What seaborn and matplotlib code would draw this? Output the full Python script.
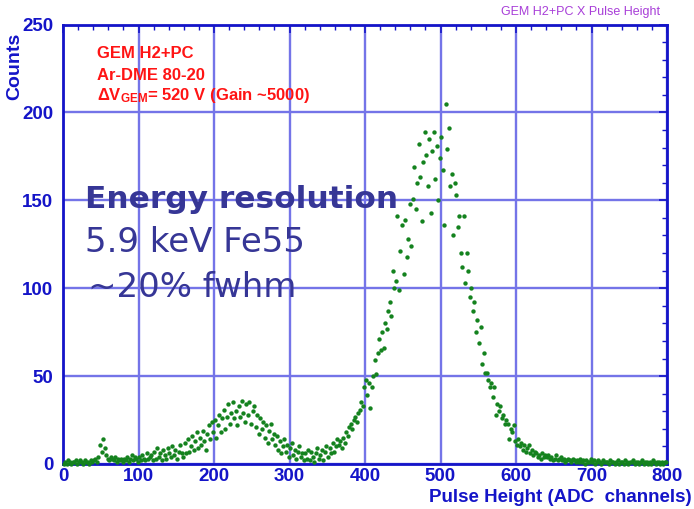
import numpy as np
import pandas as pd
import matplotlib
matplotlib.use("Agg")
import matplotlib.pyplot as plt
import seaborn as sns
from matplotlib.ticker import MultipleLocator

# ---- data: counts per 2-channel bin (bin centres 1, 3, ..., 799) ----
bin_width = 2
counts = [
    # 1-39
    0, 1, 0, 2, 1, 0, 1, 1, 2, 0, 1, 2, 1, 0, 2, 1, 1, 0, 2, 1,
    # 41-79
    2, 3, 1, 4, 11, 7, 14, 9, 5, 3, 2, 4, 3, 2, 4, 1, 3, 2, 3, 1,
    # 81-119
    3, 2, 4, 1, 3, 5, 2, 4, 3, 1, 4, 2, 5, 3, 2, 6, 3, 4, 5, 2,
    # 121-159
    7, 3, 9, 4, 6, 2, 8, 5, 3, 9, 6, 4, 10, 5, 8, 3, 7, 11, 6, 4,
    # 161-199
    12, 6, 14, 7, 10, 16, 8, 13, 18, 9, 15, 11, 19, 13, 8, 17, 22, 14, 24, 18,
    # 201-239
    25, 15, 22, 28, 18, 26, 31, 20, 27, 34, 23, 29, 35, 26, 30, 22, 33, 27, 36, 29,
    # 241-279
    24, 34, 28, 35, 23, 30, 33, 21, 28, 17, 26, 20, 24, 15, 22, 12, 19, 23, 14, 17,
    # 281-319
    11, 16, 8, 13, 6, 10, 14, 7, 11, 4, 9, 12, 5, 8, 3, 7, 10, 4, 6, 2,
    # 321-359
    6, 3, 8, 2, 7, 4, 1, 6, 9, 3, 5, 8, 2, 7, 10, 4, 9, 6, 12, 7,
    # 361-399
    10, 14, 11, 13, 9, 15, 12, 18, 16, 21, 23, 20, 25, 27, 24, 29, 31, 35, 33, 44,
    # 401-439
    48, 39, 46, 32, 44, 50, 59, 51, 63, 71, 65, 75, 66, 80, 77, 87, 92, 84, 110, 100,
    # 441-479
    104, 141, 99, 121, 136, 108, 139, 118, 128, 148, 124, 151, 169, 145, 160, 182, 163, 138, 172, 189,
    # 481-519
    176, 158, 185, 143, 178, 189, 162, 181, 150, 174, 186, 167, 136, 205, 179, 191, 158, 165, 130, 160,
    # 521-559
    153, 135, 141, 120, 112, 141, 103, 120, 110, 95, 100, 87, 92, 75, 82, 69, 78, 57, 63, 52,
    # 561-599
    52, 48, 44, 46, 38, 44, 28, 34, 30, 33, 26, 28, 23, 25, 23, 14, 20, 18, 22, 13,
    # 601-639
    11, 14, 10, 12, 8, 11, 7, 9, 11, 6, 8, 5, 7, 6, 4, 5, 3, 6, 4, 5,
    # 641-679
    4, 5, 3, 4, 2, 3, 5, 2, 3, 4, 2, 3, 1, 2, 3, 2, 1, 3, 2, 1,
    # 681-719
    2, 1, 3, 1, 2, 0, 2, 1, 1, 3, 1, 2, 0, 1, 2, 1, 0, 2, 1, 1,
    # 721-759
    1, 0, 2, 1, 1, 0, 1, 2, 0, 1, 1, 0, 2, 1, 0, 1, 1, 2, 0, 1,
    # 761-799
    1, 0, 1, 2, 0, 1, 1, 0, 1, 0, 2, 1, 0, 1, 1, 0, 1, 0, 1, 1,
]
channels = np.arange(len(counts)) * bin_width + bin_width / 2

x_ticks = [0, 100, 200, 300, 400, 500, 600, 700, 800]
y_ticks = [0, 50, 100, 150, 200, 250]

title_text = "GEM H2+PC X Pulse Height"
info_lines = ["GEM H2+PC", "Ar-DME 80-20", r"ΔV$_{\mathrm{GEM}}$= 520 V (Gain ~5000)"]
big_lines = ["Energy resolution", "5.9 keV Fe55", "~20% fwhm"]
x_label = "Pulse Height (ADC  channels)"
y_label = "Counts"

df = pd.DataFrame({"channel": channels, "counts": counts})

# ---- style ----
sns.set_style("white")
plt.rcParams["font.family"] = ["Liberation Sans", "DejaVu Sans"]
plt.rcParams["mathtext.fontset"] = "custom"
plt.rcParams["mathtext.rm"] = "Liberation Sans:bold"
plt.rcParams["mathtext.it"] = "Liberation Sans:bold"
plt.rcParams["mathtext.bf"] = "Liberation Sans:bold"

W, H = 694, 509
fig = plt.figure(figsize=(W / 100, H / 100), dpi=100)
ax = fig.add_axes([63 / W, 1 - 464 / H, (667 - 63) / W, (464 - 24.5) / H])

axis_blue = "#1414c8"
grid_blue = "#7474e8"

sns.scatterplot(data=df, x="channel", y="counts", ax=ax, color="#14821e",
                s=10, linewidth=0, marker="o", clip_on=False, zorder=5)

ax.set_xlim(0, 800)
ax.set_ylim(0, 250)
ax.set_xticks(x_ticks)
ax.set_yticks(y_ticks)
ax.xaxis.set_minor_locator(MultipleLocator(20))
ax.yaxis.set_minor_locator(MultipleLocator(10))
ax.grid(True, which="major", color=grid_blue, lw=1.7, zorder=0)
ax.set_axisbelow(True)
for sp in ax.spines.values():
    sp.set_color(axis_blue)
    sp.set_linewidth(2.0)
    sp.set_visible(True)

ax.tick_params(which="both", direction="in", top=True, right=True,
               color=axis_blue, labelcolor=axis_blue)
ax.tick_params(which="major", length=6, width=1.2, labelsize=13.5)
ax.tick_params(which="minor", length=3.5, width=1.0)
ax.tick_params(axis="y", which="major", pad=7)
ax.tick_params(axis="x", which="major", pad=3)
for lab in ax.get_xticklabels() + ax.get_yticklabels():
    lab.set_fontweight("bold")

ax.set_xlabel("")
ax.set_ylabel("")


def fx(px):
    return px / W


def fy(py):
    return 1 - py / H


fig.text(fx(692), fy(498), x_label, ha="right", va="center",
         fontsize=13.5, fontweight="bold", color=axis_blue)
fig.text(fx(15), fy(66), y_label, ha="center", va="center", rotation=90,
         fontsize=14, fontweight="bold", color=axis_blue)

fig.text(fx(660), fy(12), title_text, ha="right", va="center",
         fontsize=9, color="#a83ed8")

red = "#ff1414"
for txt, base in zip(info_lines, [58, 80, 100]):
    fig.text(fx(97), fy(base), txt, ha="left", va="baseline",
             fontsize=12, fontweight="bold", color=red)

dark = "#363696"
fig.text(fx(85), fy(208), big_lines[0], ha="left", va="baseline",
         fontsize=22.5, fontweight="bold", color=dark, family="DejaVu Sans")
fig.text(fx(85), fy(252), big_lines[1], ha="left", va="baseline",
         fontsize=24.5, color=dark, family="DejaVu Sans")
fig.text(fx(88), fy(297), big_lines[2], ha="left", va="baseline",
         fontsize=24.5, color=dark, family="DejaVu Sans")

fig.savefig("out.png", dpi=100, facecolor="white")
